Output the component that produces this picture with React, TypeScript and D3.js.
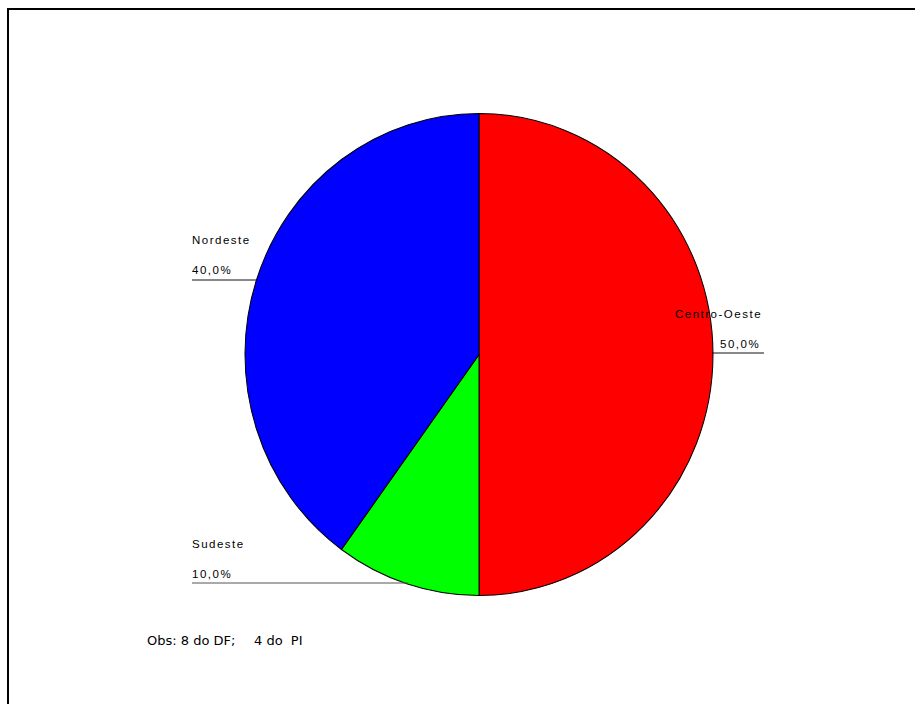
import React from "react";
import * as d3 from "d3";

const categories = ["Centro-Oeste", "Sudeste", "Nordeste"];
const values = [50, 10, 40];
const colors = ["#ff0000", "#00ff00", "#0000ff"];
const valueLabels = ["50,0%", "10,0%", "40,0%"];

export default function App() {
  const W = 915, H = 704;
  const cx = 479, cy = 354.5, r = 234, sy = 241 / 234;
  const pie = d3.pie<number>().sort(null).value((d) => d)(values);
  const arc = d3.arc<d3.PieArcDatum<number>>().innerRadius(0).outerRadius(r);
  // label layout: [nameX, nameY, valX, valY, lineX1, lineX2, lineY]
  const labelPos: Record<string, number[]> = {
    "Centro-Oeste": [675, 318, 720, 348, 712, 764, 353],
    "Sudeste": [192, 548, 192, 578, 192, 408, 583],
    "Nordeste": [192, 244, 192, 274, 192, 257, 280],
  };
  return (
    <svg width={W} height={H} style={{ position: "absolute", left: 0, top: 0 }}>
      <rect x={0} y={0} width={W} height={H} fill="#fff" />
      <rect x={8} y={9} width={W + 20} height={H + 20} fill="none" stroke="#000" strokeWidth={2} />
      <g transform={`translate(${cx},${cy}) scale(1,${sy})`}>
        {pie.map((p, i) => (
          <path key={i} d={arc(p) as string} fill={colors[i]} stroke="#000" strokeWidth={1} />
        ))}
      </g>
      {categories.map((c, i) => {
        const [nx, ny, vx, vy, lx1, lx2, ly] = labelPos[c];
        return (
          <g key={c} fontFamily="Liberation Sans, Arial, sans-serif" fontSize={11.5} letterSpacing={1.5} fill="#000">
            <line x1={lx1} x2={lx2} y1={ly} y2={ly} stroke={c === "Sudeste" ? "#555" : "#111"} strokeWidth={1} />
            <text x={nx} y={ny}>{c}</text>
            <text x={vx} y={vy}>{valueLabels[i]}</text>
          </g>
        );
      })}
      <g fontFamily="DejaVu Sans, sans-serif" fontSize={13} fill="#000">
        <text x={147} y={645}>Obs: 8 do DF;</text>
        <text x={254} y={645}>{"4 do\u00a0 PI"}</text>
      </g>
    </svg>
  );
}
